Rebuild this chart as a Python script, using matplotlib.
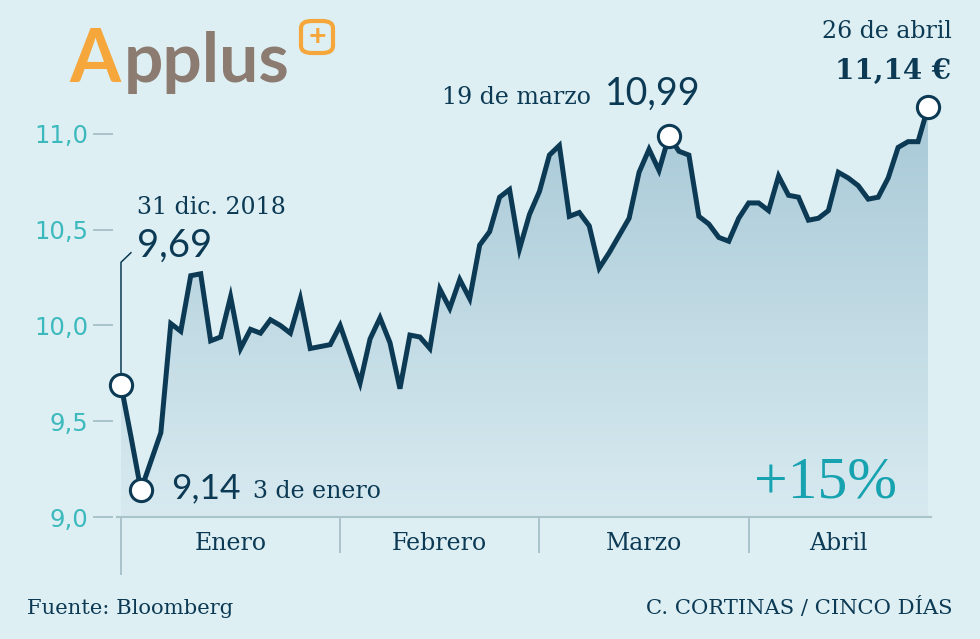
import numpy as np
import matplotlib
matplotlib.use('Agg')
import matplotlib.pyplot as plt
from matplotlib.colors import LinearSegmentedColormap
from matplotlib.patches import Polygon, FancyBboxPatch

# cierre diario de Applus, 31 dic. 2018 - 26 abr. 2019 (sesiones)
precio = [9.69, 9.42, 9.14, 9.29, 9.44, 10.01, 9.97, 10.26, 10.27, 9.92,
          9.94, 10.15, 9.88, 9.98, 9.96, 10.03, 10.00, 9.96, 10.14, 9.88,
          9.89, 9.90, 10.00, 9.85, 9.70, 9.93, 10.04, 9.91, 9.67, 9.95,
          9.94, 9.88, 10.19, 10.09, 10.24, 10.14, 10.42, 10.49, 10.67, 10.71,
          10.40, 10.58, 10.70, 10.89, 10.94, 10.57, 10.59, 10.52, 10.30, 10.38,
          10.47, 10.56, 10.80, 10.92, 10.81, 10.99, 10.91, 10.89, 10.57, 10.53,
          10.46, 10.44, 10.56, 10.64, 10.64, 10.60, 10.78, 10.68, 10.67, 10.55,
          10.56, 10.60, 10.80, 10.77, 10.73, 10.66, 10.67, 10.77, 10.93, 10.96,
          10.96, 11.14]
meses = ['Enero', 'Febrero', 'Marzo', 'Abril']
fin_mes = [22, 42, 63]          # ultima sesion de enero, febrero, marzo
yticks = [9.0, 9.5, 10.0, 10.5, 11.0]
ytick_labels = ['9,0', '9,5', '10,0', '10,5', '11,0']
destacados = [0, 2, 55, 81]

W, H = 980, 639
fondo = '#ddeff3'
oscuro = '#0c3a54'
turquesa = '#3cb9bd'
gris = '#aac2ca'
naranja = '#f5a73c'
serif = 'DejaVu Serif'

x = np.arange(len(precio))

fig = plt.figure(figsize=(W / 100, H / 100), dpi=100, facecolor=fondo)
ax = fig.add_axes([117 / W, (H - 517) / H, 814 / W, 517 / H])
ax.set_facecolor(fondo)

# relleno degradado bajo la linea
cmap = LinearSegmentedColormap.from_list('relleno', ['#d8eaf0', '#a8c9d7'])
grad = np.linspace(0, 1, 256).reshape(-1, 1)
img = ax.imshow(grad, extent=[0, x[-1], 9.0, max(precio)], origin='lower',
                cmap=cmap, aspect='auto', zorder=1)
poly = Polygon(np.column_stack([np.r_[0, x, x[-1]], np.r_[9.0, precio, 9.0]]),
               transform=ax.transData, facecolor='none', edgecolor='none')
ax.add_patch(poly)
img.set_clip_path(poly)

ax.plot(x, precio, color=oscuro, lw=3.6, solid_joinstyle='miter', zorder=3)

# linea de llamada del 31 dic.
ax.plot([0, 0, 1.0], [precio[0], 10.33, 10.38], color=oscuro, lw=1.1, zorder=2,
        clip_on=False)

ax.plot(x[destacados], np.array(precio)[destacados], 'o', ms=16, mfc='white',
        mec=oscuro, mew=2.2, zorder=4, clip_on=False)

ax.set_xlim(-0.4, 81.3)
ax.set_ylim(9.0, 9.0 + 517 / 191.5)

for s in ['top', 'right']:
    ax.spines[s].set_visible(False)
ax.spines['left'].set_position(('outward', 2.9))
ax.spines['left'].set_visible(False)
ax.spines['bottom'].set_color(gris)
ax.spines['bottom'].set_linewidth(1.5)

ax.set_xticks([])
ax.set_yticks(yticks)
ax.set_yticklabels(ytick_labels)
ax.tick_params(axis='y', length=14.4, width=1.4, color=gris, pad=3.6,
               labelsize=17.5, labelcolor=turquesa)

# separadores de meses
tr = ax.get_xaxis_transform()
for m in fin_mes:
    ax.plot([m, m], [0, -35 / 517], transform=tr, color=gris, lw=1.4, clip_on=False)
ax.plot([0, 0], [0, -57 / 517], transform=tr, color=gris, lw=1.4, clip_on=False)

limites = [0] + fin_mes + [x[-1]]
for i, mes in enumerate(meses):
    ax.text((limites[i] + limites[i + 1]) / 2, -27 / 517, mes, transform=tr,
            ha='center', va='center', fontsize=17, family=serif, color=oscuro)

# etiquetas
def etiqueta(txt, i, dx, dy, ha='left', va='baseline', **kw):
    ax.annotate(txt, xy=(x[i], precio[i]), xytext=(dx, dy),
                textcoords='offset pixels', ha=ha, va=va, color=oscuro, **kw)

etiqueta('31 dic. 2018', 0, 16, 177, va='center', fontsize=17, family=serif)
etiqueta('9,69', 0, 16, 139, va='center', fontsize=27.5, family='Lato')
etiqueta('9,14', 2, 30, -8, fontsize=25.5, family='Lato')
etiqueta('3 de enero', 2, 112, -8, fontsize=17, family=serif)
etiqueta('19 de marzo', 55, -78, 32, ha='right', fontsize=17, family=serif)
etiqueta('10,99', 55, -64, 31, fontsize=27, family='Lato')
etiqueta('26 de abril', 81, 24, 69, ha='right', fontsize=17, family=serif)
etiqueta('11,14 €', 81, 23, 28, ha='right', fontsize=20, family=serif,
         fontweight='bold')

fig.text(897 / W, 1 - 497 / H, '+15%', ha='right', va='baseline',
         fontsize=43, family='Liberation Serif', color='#17a2b0')

fig.text(27 / W, 1 - 608 / H, 'Fuente: Bloomberg', ha='left', va='center',
         fontsize=15.2, family=serif, color=oscuro)
fig.text(952 / W, 1 - 608 / H, 'C. CORTINAS / CINCO DÍAS', ha='right',
         va='center', fontsize=15.2, family=serif, color=oscuro)

# logo
fig.text(69 / W, 1 - 82 / H, 'A', ha='left', va='baseline', fontsize=53,
         family='Lato', fontweight='bold', color=naranja)
fig.text(124 / W, 1 - 82 / H, 'pplus', ha='left', va='baseline', fontsize=50,
         family='Lato', fontweight='bold', color='#8b7b71')
caja = FancyBboxPatch((301 / W, 1 - 53 / H), 32 / W, 32 / H,
                      boxstyle='round,pad=0,rounding_size=0.011',
                      transform=fig.transFigure, facecolor='none',
                      edgecolor=naranja, lw=3)
fig.patches.append(caja)
fig.text(317 / W, 1 - 37 / H, '+', ha='center', va='center', fontsize=22,
         family='Lato', fontweight='bold', color=naranja)

fig.savefig('out.png', dpi=100, facecolor=fondo)
